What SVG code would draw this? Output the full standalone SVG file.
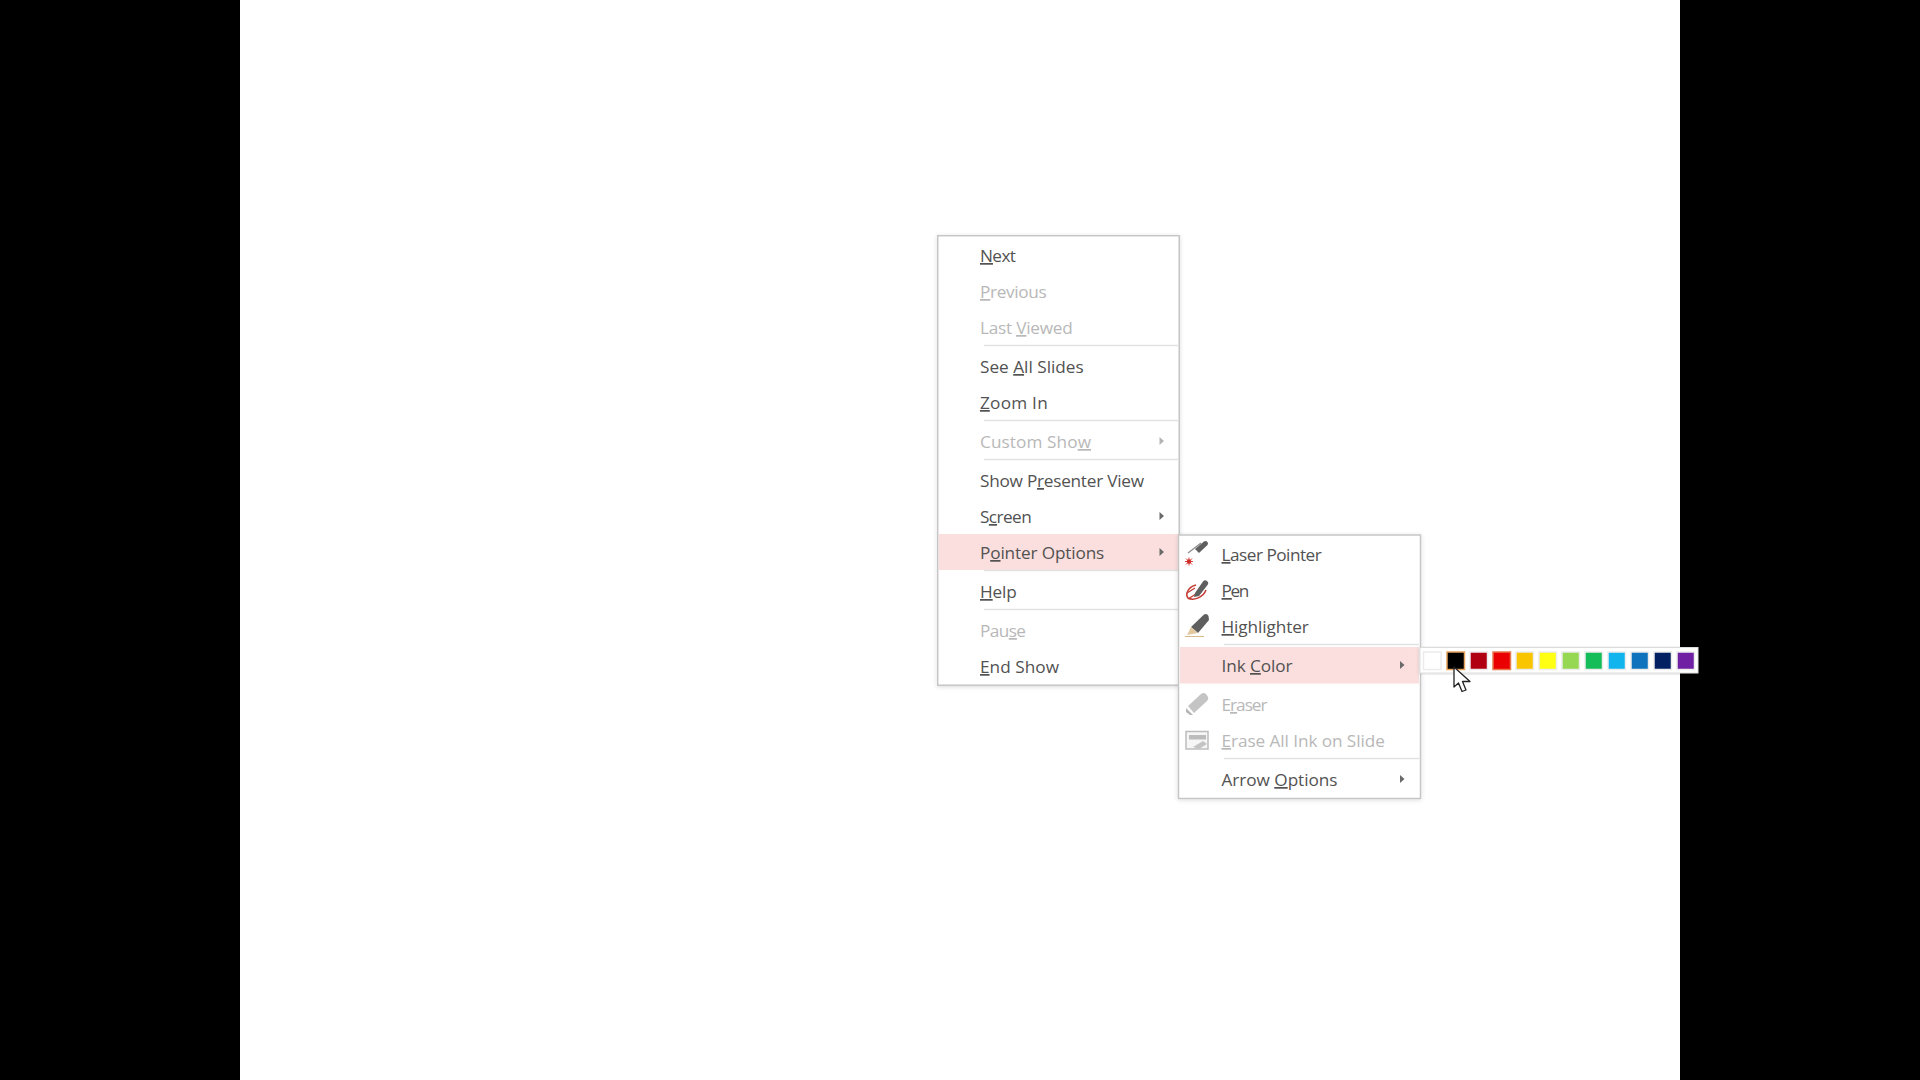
<svg xmlns="http://www.w3.org/2000/svg" width="1920" height="1080" viewBox="0 0 1920 1080">
<style>
text{font-family:"Open Sans","Noto Sans","Liberation Sans",sans-serif;font-size:17.2px;fill:#525252}
.d{fill:#b8b8b8}
.u{text-decoration:underline}
.menu{fill:#fff;stroke:#c6c6c6;stroke-width:1.5}
.hl{fill:#fbdfde}
.sep{stroke:#e2e2e2;stroke-width:1.3}
.arr{fill:#6a6a6a}
.arrd{fill:#b4b4b4}
.sw{stroke:#ececec;stroke-width:1.5}
</style>
<defs>
<filter id="sh" x="-5%" y="-5%" width="110%" height="110%"><feDropShadow dx="0" dy="1" stdDeviation="2" flood-color="#000" flood-opacity=".14"/></filter>
<polygon id="a" points="0,0 4.5,4 0,8"/>
</defs>
<rect width="1920" height="1080" fill="#fff"/>
<rect width="240" height="1080" fill="#000"/>
<rect x="1680" width="240" height="1080" fill="#000"/>

<g id="main-menu">
<rect class="menu" x="937.7" y="235.7" width="241.5" height="449.5" filter="url(#sh)"/>
<rect class="hl" x="939" y="534" width="239.5" height="36"/>
<path class="sep" d="M984 345.5H1178M984 420.5H1178M984 459.5H1178M984 570.5H1178M984 609.5H1178"/>
<text x="980" y="262" textLength="36"><tspan class="u">N</tspan>ext</text>
<text class="d" x="980" y="298" textLength="66.700"><tspan class="u">P</tspan>revious</text>
<text class="d" x="980" y="334" textLength="92.700">Last <tspan class="u">V</tspan>iewed</text>
<text x="980" y="373" textLength="103.700">See <tspan class="u">A</tspan>ll Slides</text>
<text x="980" y="409" textLength="67.700"><tspan class="u">Z</tspan>oom In</text>
<text class="d" x="980" y="448" textLength="111">Custom Sho<tspan class="u">w</tspan></text>
<text x="980" y="487" textLength="164">Show P<tspan class="u">r</tspan>esenter View</text>
<text x="980" y="523" textLength="51.700">S<tspan class="u">c</tspan>reen</text>
<text x="980" y="559" textLength="124.300">P<tspan class="u">o</tspan>inter Options</text>
<text x="980" y="598" textLength="36.700"><tspan class="u">H</tspan>elp</text>
<text class="d" x="980" y="637" textLength="46"><tspan>Pau</tspan><tspan class="u">s</tspan>e</text>
<text x="980" y="673" textLength="79"><tspan class="u">E</tspan>nd Show</text>
<use href="#a" class="arrd" x="1159.500" y="437"/>
<use href="#a" class="arr" x="1159.500" y="512"/>
<use href="#a" class="arr" x="1159.500" y="548"/>
</g>

<g id="pointer-submenu">
<rect class="menu" x="1178.500" y="535" width="242" height="263.500" filter="url(#sh)"/>
<rect class="hl" x="1180" y="647" width="239" height="36.500"/>
<path class="sep" d="M1224 644.500H1419M1224 758.500H1419"/>
<text x="1221.500" y="561" textLength="100.300"><tspan class="u">L</tspan>aser Pointer</text>
<text x="1221.500" y="597" textLength="27.700"><tspan class="u">P</tspan>en</text>
<text x="1221.500" y="633" textLength="87.300"><tspan class="u">H</tspan>ighlighter</text>
<text x="1221.500" y="672" textLength="71">Ink <tspan class="u">C</tspan>olor</text>
<text class="d" x="1221.500" y="711" textLength="46">E<tspan class="u">r</tspan>aser</text>
<text class="d" x="1221.500" y="747" textLength="163.300"><tspan class="u">E</tspan>rase All Ink on Slide</text>
<text x="1221.500" y="786" textLength="116">Arrow <tspan class="u">O</tspan>ptions</text>
<use href="#a" class="arr" x="1400" y="661"/>
<use href="#a" class="arr" x="1400" y="775"/>
<g id="icon-laser">
<path d="M1188 553L1201 543" stroke="#8a8a8a" stroke-width="1.200"/>
<path d="M1195 549L1204 541.500A2.500 2.500 0 0 1 1207.500 545L1199 553Z" fill="#5f5f5f"/>
<circle cx="1189" cy="561.500" r="2.300" fill="#d1302a"/>
<path d="M1186 558.500L1192 564.500M1192 558.500L1186 564.500M1189 557.500V565.500M1185 561.500H1193" stroke="#d1302a" stroke-width=".9"/>
</g>
<g id="icon-pen">
<path d="M1196 585C1188 587 1185 594 1188 598C1193 601 1203 598 1206 590" fill="none" stroke="#c33b32" stroke-width="1.500"/>
<path d="M1187 593L1195 588M1188 599L1196 594" stroke="#c33b32" stroke-width="1.300"/>
<path d="M1195 593L1203 581.500A2.500 2.500 0 0 1 1207.500 585L1199 596L1194 597Z" fill="#5f5f5f"/>
</g>
<g id="icon-highlighter">
<path d="M1191 627L1204 614.500Q1207 613 1208.500 616L1209 620L1198 633Z" fill="#5f5f5f"/>
<path d="M1191 627L1198 633L1187 635Z" fill="#e3c9a0"/>
<path d="M1185 636.500H1204" stroke="#d8b98a" stroke-width="1"/>
</g>
<g id="icon-eraser" fill="#c4c4c4">
<path d="M1188 706L1201 694Q1204 692 1206 694L1208 697Q1209 699 1207 701L1194 713Z"/>
<path d="M1186 708L1193 715L1190 715 1186 712Z" fill="#b5b5b5"/>
</g>
<g id="icon-erase-all">
<rect x="1186" y="731.500" width="22" height="17.500" fill="#f6f6f6" stroke="#bdbdbd" stroke-width="1.500"/>
<rect x="1189" y="735" width="17" height="4.500" fill="#bcbcbc"/>
<path d="M1193 747L1203 741L1207 744L1199 749Z" fill="#c4c4c4"/>
</g>
</g>

<g id="ink-palette">
<rect x="1420" y="647.500" width="278" height="25.500" fill="#fff" stroke="#dcdcdc" filter="url(#sh)"/>
<rect class="sw" x="1423.500" y="652" width="17.500" height="17.500" fill="#fff"/>
<rect x="1447" y="652" width="17.500" height="17.500" fill="#000" stroke="#e8a35a" stroke-width="1.500"/>
<rect class="sw" x="1470" y="652" width="17.500" height="17.500" fill="#b00012"/>
<rect x="1493" y="652" width="17.500" height="17.500" fill="#ea0000" stroke="#e8794f" stroke-width="1.500"/>
<rect class="sw" x="1516" y="652" width="17.500" height="17.500" fill="#f9c400"/>
<rect class="sw" x="1539" y="652" width="17.500" height="17.500" fill="#ffff14"/>
<rect class="sw" x="1562" y="652" width="17.500" height="17.500" fill="#96d853"/>
<rect class="sw" x="1585" y="652" width="17.500" height="17.500" fill="#14bd58"/>
<rect class="sw" x="1608" y="652" width="17.500" height="17.500" fill="#12b4ee"/>
<rect class="sw" x="1631" y="652" width="17.500" height="17.500" fill="#0f72bd"/>
<rect class="sw" x="1654" y="652" width="17.500" height="17.500" fill="#032063"/>
<rect class="sw" x="1677" y="652" width="17.500" height="17.500" fill="#7020a3"/>
</g>

<g id="cursor">
<path d="M1454 667V687L1458.500 683L1462 691.500L1466 690L1462.500 681.500L1470 681.500Z" fill="#fff" stroke="#222" stroke-width="1.300" stroke-linejoin="round"/>
</g>
</svg>
